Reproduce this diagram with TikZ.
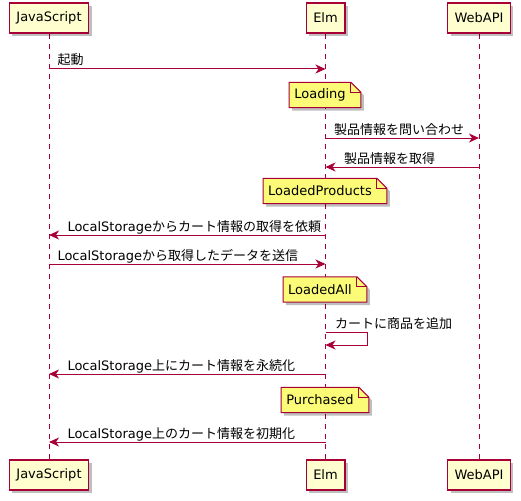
\documentclass[tikz,border=0pt]{standalone}
\usepackage{fontspec}
\setmainfont{DejaVu Sans}
\newfontfamily\jp{Noto Sans CJK JP}
\usetikzlibrary{arrows.meta,shadows,backgrounds}
\definecolor{umlred}{HTML}{A80036}
\definecolor{umlbox}{HTML}{FEFECE}
\definecolor{umlnote}{HTML}{FBFB77}
\tikzset{
  >={Stealth[length=10pt,width=9pt,inset=3pt]},
  umlshadow/.style={drop shadow={shadow xshift=3pt,shadow yshift=-3pt,fill=black,opacity=0.25}},
  actor/.style={rectangle, draw=umlred, line width=1.5pt, fill=umlbox, minimum height=30pt,
                inner xsep=7pt, font=\fontsize{13}{15}\selectfont, umlshadow},
  lifeline/.style={draw=umlred, line width=0.8pt, dash pattern=on 5pt off 5pt},
  msg/.style={draw=umlred, line width=1pt, ->},
  tolabel/.style={pos=0, anchor=base west, inner sep=0pt, xshift=8pt, yshift=4pt,
                  font=\fontsize{13}{15}\selectfont},
  backlabel/.style={pos=1, anchor=base west, inner sep=0pt, xshift=18pt, yshift=4pt,
                    font=\fontsize{13}{15}\selectfont},
  notetext/.style={inner xsep=5pt, inner ysep=0pt, minimum height=25pt,
                   font=\fontsize{13}{15}\selectfont},
  notefill/.style={draw=umlred, fill=umlnote, line width=1pt, umlshadow}
}

\begin{document}
\begin{tikzpicture}[x=1pt,y=-1pt]
    \useasboundingbox (0,0) rectangle (521,500);
    % Participants, top and bottom
    \node[actor] (js)   at (49,18)    {JavaScript};
    \node[actor] (elm)  at (325.5,18) {Elm};
    \node[actor] (api)  at (479,18)   {WebAPI};
    \node[actor] (jsb)  at (49,475)   {JavaScript};
    \node[actor] (elmb) at (325.5,475) {Elm};
    \node[actor] (apib) at (479,475)  {WebAPI};

    % Lifelines
    \begin{scope}[on background layer]
      \foreach \t/\b in {js/jsb,elm/elmb,api/apib}
        \draw[lifeline] (\t) -- (\b);
    \end{scope}

    % Notes over Elm
    \foreach \n/\y/\txt in {loading/95/Loading,products/191/LoadedProducts,
                            all/289.5/LoadedAll,purchased/400/Purchased}{
      \node[notetext] (\n) at (320,\y) {\txt};
      \begin{scope}[on background layer]
        \draw[notefill] (\n.north west) -- (\n.north east)
              -- ([xshift=10pt,yshift=-10pt]\n.north east)
              -- ([xshift=10pt]\n.south east) -- (\n.south west) -- cycle;
        \draw[draw=umlred, line width=1pt] (\n.north east)
              |- ([xshift=10pt,yshift=-10pt]\n.north east);
      \end{scope}
    }

    % Messages
    \draw[msg] (js |- 0,69) -- node[tolabel] {\jp 起動} (elm |- 0,69);
    \draw[msg] (elm |- 0,138) -- node[tolabel] {\jp 製品情報を問い合わせ} (api |- 0,138);
    \draw[msg] (api |- 0,167) -- node[backlabel] {\jp 製品情報を取得} (elm |- 0,167);
    \draw[msg] (elm |- 0,235) -- node[backlabel] {LocalStorage{\jp からカート情報の取得を依頼}} (js |- 0,235);
    \draw[msg] (js |- 0,264) -- node[tolabel] {LocalStorage{\jp から取得したデータを送信}} (elm |- 0,264);
    \draw[msg] (elm |- 0,332) -- node[tolabel, xshift=1pt] {\jp カートに商品を追加} ++(42,0)
               -- ++(0,13) -- (elm |- 0,345);
    \draw[msg] (elm |- 0,374) -- node[backlabel] {LocalStorage{\jp 上にカート情報を永続化}} (js |- 0,374);
    \draw[msg] (elm |- 0,442) -- node[backlabel] {LocalStorage{\jp 上のカート情報を初期化}} (js |- 0,442);

\end{tikzpicture}
\end{document}
